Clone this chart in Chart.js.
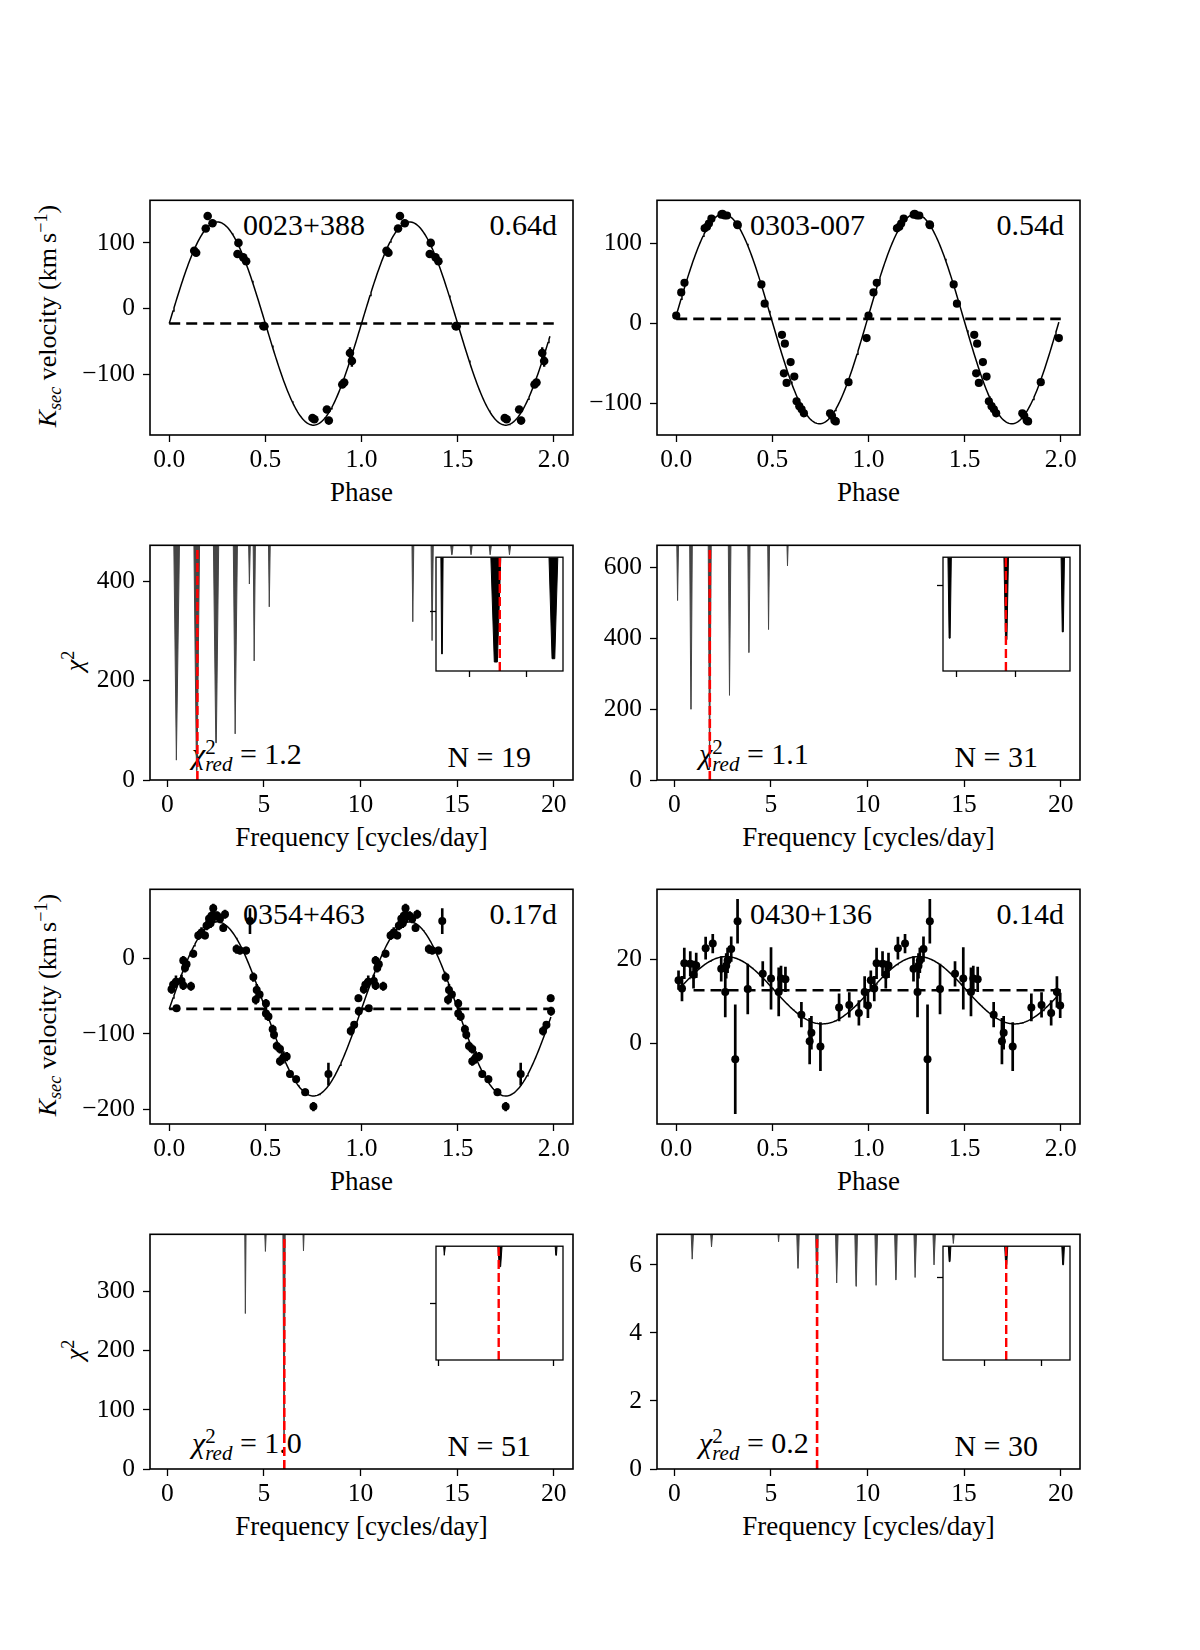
<!DOCTYPE html>
<html lang="en">
<head>
<meta charset="UTF-8">
<title>Radial velocity curves and periodograms</title>
<script src="https://cdn.jsdelivr.net/npm/chart.js"></script>
<style>
  body { margin: 0; background: #fff; }
  #fig { position: relative; width: 1200px; height: 1650px; font-family: 'Liberation Serif', 'Times New Roman', serif; color: #000; }
  .txt { position: absolute; white-space: nowrap; z-index: 0; }
  .txt sub, .txt sup { font-size: 0.7em; line-height: 0; }
  canvas { position: absolute; z-index: 1; }
</style>
</head>
<body>
<div id="fig"></div>
<script>
// ---- radial velocity data (phase, km/s, error) ----
const phase0023 = [0.13, 0.14, 0.19, 0.20, 0.225, 0.355, 0.36, 0.385, 0.40, 0.49, 0.495, 0.745, 0.755, 0.82, 0.83, 0.90, 0.91, 0.94, 0.95];
const rv0023    = [88, 85, 122, 141, 130, 83, 100, 78, 72, -27, -27, -167, -169, -154, -171, -116, -113, -68, -80];
const err0023   = [4, 4, 4, 4, 4, 4, 4, 4, 4, 4, 4, 4, 4, 4, 4, 5, 5, 9, 9];
const fit0023   = [-23, 155, 0];          // gamma, K, phase offset
const span0023  = [0, 1.98];

const phase0303 = [0.0, 0.026, 0.043, 0.148, 0.16, 0.17, 0.183, 0.235, 0.24, 0.252, 0.264, 0.317, 0.32, 0.443, 0.46, 0.55, 0.56, 0.565, 0.574, 0.595, 0.614, 0.626, 0.64, 0.652, 0.664, 0.80, 0.81, 0.823, 0.83, 0.896, 0.99];
const rv0303    = [10, 39, 51, 119, 121, 125, 131, 136, 137, 135, 135, 124, 123, 49, 25, -14, -62, -25, -74, -48, -66, -97, -103, -107, -112, -112, -115, -121, -122, -73, -18];
const err0303   = [3, 3, 3, 3, 3, 3, 3, 3, 3, 3, 3, 3, 3, 3, 3, 3, 3, 3, 3, 3, 3, 3, 3, 3, 3, 3, 3, 3, 3, 3, 3];
const fit0303   = [6, 131, -0.005];
const span0303  = [0, 1.99];

const phase0354 = [0.012, 0.02, 0.035, 0.038, 0.064, 0.073, 0.073, 0.082, 0.09, 0.113, 0.125, 0.151, 0.168, 0.186, 0.194, 0.207, 0.215, 0.22, 0.229, 0.235, 0.25, 0.264, 0.281, 0.29, 0.35, 0.368, 0.40, 0.42, 0.4375, 0.45, 0.455, 0.47, 0.503, 0.503, 0.516, 0.538, 0.545, 0.559, 0.576, 0.576, 0.594, 0.611, 0.628, 0.66, 0.707, 0.75, 0.828, 0.944, 0.962, 0.984, 0.986];
const rv0354    = [-41, -35, -31, -66, -30, -36, -3, -13, -8, -37, 6, 30, 34, 30, 43, 52, 46, 56, 66, 55, 56, 52, 40, 58, 12, 10, 10, 49, -25, -55, -42, -48, -60, -73, -77, -94, -101, -116, -120, -136, -131, -130, -153, -160, -177, -196, -153, -96, -88, -53, -70];
const err0354   = [6, 6, 8, 4, 8, 6, 6, 6, 5, 6, 5, 6, 7, 5, 6, 6, 6, 6, 6, 8, 6, 6, 5, 6, 6, 5, 5, 17, 6, 6, 8, 5, 6, 8, 6, 6, 6, 6, 6, 6, 8, 6, 5, 5, 5, 6, 15, 6, 5, 5, 6];
const fit0354   = [-67, 115, 0];
const span0354  = [0, 1.985];

const phase0430 = [0.012, 0.03, 0.042, 0.073, 0.09, 0.104, 0.153, 0.19, 0.234, 0.255, 0.26, 0.267, 0.286, 0.307, 0.319, 0.372, 0.45, 0.493, 0.533, 0.545, 0.568, 0.651, 0.694, 0.703, 0.75, 0.847, 0.9, 0.95, 0.98, 0.997];
const rv0430    = [15.1, 13.1, 19.1, 19.0, 16.4, 18.6, 22.7, 23.8, 17.8, 12.3, 18.5, 19.8, 22.5, -3.7, 29.1, 13.0, 16.6, 15.5, 12.3, 15.5, 15.3, 6.9, 0.6, 2.6, -0.7, 8.6, 9.2, 7.3, 12.3, 9.1];
const err0430   = [2.3, 3, 3.7, 3, 3.3, 3, 2.7, 2.3, 3, 6, 3, 3, 3, 13, 5.3, 6, 3, 7.4, 5.8, 3, 3, 3, 5.5, 4, 5.8, 3.3, 3, 3, 3.7, 3];
const fit0430   = [12.7, 8, 0.01];
const span0430  = [0.012, 1.997];

// ---- chi-square periodograms: dip frequency, minimum chi2, dip width ----
const freq0023 = [0.48, 1.52, 2.52, 3.52, 4.25, 4.50, 5.28, 12.71, 13.71, 14.73, 15.73, 16.72, 17.72];
const chi0023  = [40, 19, 75, 93, 395, 240, 349, 319, 281, 454, 454, 454, 454];
const wid0023  = [0.3, 0.3, 0.28, 0.22, 0.1, 0.12, 0.1, 0.1, 0.12, 0.2, 0.2, 0.2, 0.2];
const best0023 = 1.553;
const zfreq0023 = [1.4506, 1.546, 1.648];
const zchi0023  = [57, 30, 41];
const zwid0023  = [0.004, 0.018, 0.016];

const freq0303 = [0.17, 0.86, 1.83, 2.86, 3.86, 4.88, 5.86];
const chi0303  = [507, 200, 31, 239, 360, 425, 605];
const wid0303  = [0.1, 0.14, 0.16, 0.14, 0.12, 0.1, 0.08];
const best0303 = 1.834;
const zfreq0303 = [1.7374, 1.8345, 1.9316];
const zchi0303  = [231, 220, 275];
const zwid0303  = [0.006, 0.008, 0.006];

const freq0354 = [4.04, 5.08, 6.04, 7.05];
const chi0354  = [263, 368, 48, 369];
const wid0354  = [0.07, 0.1, 0.12, 0.08];
const best0354 = 6.052;
const zfreq0354 = [6.0049, 6.0531, 6.102];
const zchi0354  = [92, 82, 92];
const zwid0354  = [0.002, 0.004, 0.002];

const freq0430 = [0.93, 1.93, 5.40, 6.40, 7.38, 8.41, 9.41, 10.45, 11.47, 12.47, 13.45, 14.45];
const chi0430  = [6.17, 6.53, 6.68, 5.9, 5.4, 5.47, 5.37, 5.4, 5.56, 5.63, 6.0, 6.63];
const wid0430  = [0.15, 0.15, 0.12, 0.15, 0.15, 0.15, 0.15, 0.15, 0.15, 0.15, 0.15, 0.15];
const best0430 = 7.388;
const zfreq0430 = [7.2895, 7.388, 7.487];
const zchi0430  = [7.13, 6.9, 6.9];
const zwid0430  = [0.005, 0.006, 0.005];

// ---- tick values ----
const phaseTicks = [0, 0.5, 1, 1.5, 2];
const freqTicks = [0, 5, 10, 15, 20];

// ---- layout ----
const SERIF = "'Liberation Serif', 'Times New Roman', serif";
const BOX = {w: 423, h: 238};
const COLS = [150, 657];
const ROWS = [197, 542, 886, 1231];
const PAD = {l: 100, r: 45, t: 20, b: 50};
const PAD_IN = {l: 10, r: 4, t: 4, b: 10};
const INSET = {dx: 286, dy: 10, w: 127, h: 119};
const GRAY = '#454545';
const TICK_FONT = 25.5;
const fig = document.getElementById('fig');

const fmt1 = v => v.toFixed(1);
const fmtInt = v => String(v).replace('-', '\u2212');
const blank = () => '';

const framePlugin = {
  id: 'frame',
  beforeDraw(chart, args, opts) {
    if (!opts.fill) return;
    const a = chart.chartArea, ctx = chart.ctx;
    ctx.save();
    ctx.fillStyle = opts.fill;
    ctx.fillRect(a.left, a.top, a.right - a.left, a.bottom - a.top);
    ctx.restore();
  },
  afterDraw(chart, args, opts) {
    const a = chart.chartArea, ctx = chart.ctx;
    ctx.save();
    ctx.strokeStyle = '#000';
    ctx.lineWidth = opts.width || 1.6;
    ctx.strokeRect(a.left, a.top, a.right - a.left, a.bottom - a.top);
    ctx.restore();
  }
};

function axis(pos, min, max, values, fmt, size, tick, font) {
  const horiz = pos === 'bottom';
  return {
    type: 'linear', position: pos, min: min, max: max,
    afterBuildTicks: s => { s.ticks = values.map(v => ({value: v})); },
    afterFit: s => { if (horiz) s.height = size; else s.width = size; },
    grid: {drawOnChartArea: false, drawTicks: true, tickLength: tick, tickWidth: 1.3, tickColor: '#000'},
    border: {display: false},
    ticks: {autoSkip: false, maxRotation: 0, minRotation: 0, padding: horiz ? 3 : 8, color: '#000',
            font: {family: SERIF, size: font}, callback: v => fmt(v)}
  };
}

function makeChart(left, top, pad, box, datasets, xs, ys, frameOpts) {
  const w = box.w + pad.l + pad.r, h = box.h + pad.t + pad.b;
  const c = document.createElement('canvas');
  c.width = w; c.height = h;
  c.style.left = (left - pad.l) + 'px';
  c.style.top = (top - pad.t) + 'px';
  c.style.width = w + 'px';
  c.style.height = h + 'px';
  fig.appendChild(c);
  return new Chart(c, {
    type: 'scatter',
    data: {datasets: datasets},
    options: {
      responsive: false, animation: false, events: [], devicePixelRatio: 1,
      layout: {padding: {left: 0, right: pad.r, top: pad.t, bottom: 0}},
      scales: {x: xs, y: ys},
      plugins: {legend: {display: false}, tooltip: {enabled: false}, frame: frameOpts}
    },
    plugins: [framePlugin]
  });
}

function rvDatasets(ph, rv, er, fit, span, gammaSpan, radius, barW) {
  const pts = [], bars = [];
  for (let c = 0; c < 2; c++) {
    ph.forEach((p, i) => {
      pts.push({x: p + c, y: rv[i]});
      bars.push({x: p + c, y: rv[i] - er[i]}, {x: p + c, y: rv[i] + er[i]}, {x: p + c, y: null});
    });
  }
  const curve = [];
  const n = 400;
  for (let k = 0; k <= n; k++) {
    const p = span[0] + (span[1] - span[0]) * k / n;
    curve.push({x: p, y: fit[0] + fit[1] * Math.sin(2 * Math.PI * (p - fit[2]))});
  }
  return [
    {type: 'scatter', data: pts, pointRadius: radius, pointBackgroundColor: '#000', pointBorderColor: '#000', pointBorderWidth: 0, order: 0},
    {type: 'line', data: bars, borderColor: '#000', borderWidth: barW, pointRadius: 0, spanGaps: false, order: 1},
    {type: 'line', data: [{x: gammaSpan[0], y: fit[0]}, {x: gammaSpan[1], y: fit[0]}], borderColor: '#000', borderWidth: 2.6, borderDash: [11, 6], pointRadius: 0, order: 2},
    {type: 'line', data: curve, borderColor: '#000', borderWidth: 1.5, pointRadius: 0, order: 3}
  ];
}

function dipLine(freqs, mins, widths, top, lo, hi, baseFrac) {
  const pts = [{x: lo, y: top}];
  freqs.forEach((f, i) => {
    const w = widths[i] / 2, b = w * baseFrac;
    pts.push({x: f - w, y: top}, {x: f - b, y: mins[i]}, {x: f + b, y: mins[i]}, {x: f + w, y: top});
  });
  pts.push({x: hi, y: top});
  return pts;
}

function chiDatasets(freqs, mins, widths, best, xmin, xmax, ymax, color, baseFrac, redW) {
  const top = ymax * 1.03;
  return [
    {type: 'line', data: [{x: best, y: 0}, {x: best, y: top}], borderColor: '#ff0000', borderWidth: redW, borderDash: [9, 4], pointRadius: 0, order: 0},
    {type: 'line', data: dipLine(freqs, mins, widths, top, xmin - 1, xmax + 1, baseFrac), borderColor: color, backgroundColor: color, borderWidth: 1, pointRadius: 0, fill: 'end', order: 1}
  ];
}

function rvPanel(col, row, ph, rv, er, fit, span, gammaSpan, radius, barW, ymin, ymax, yticks) {
  makeChart(COLS[col], ROWS[row], PAD, BOX,
    rvDatasets(ph, rv, er, fit, span, gammaSpan, radius, barW),
    axis('bottom', -0.1, 2.1, phaseTicks, fmt1, PAD.b, 7, TICK_FONT),
    axis('left', ymin, ymax, yticks, fmtInt, PAD.l, 7, TICK_FONT),
    {width: 1.6});
}

function chiPanel(col, row, freqs, mins, widths, best, ymax, yticks, zf, zc, zw, zx, zy, zxt, zyt) {
  const left = COLS[col], top = ROWS[row];
  makeChart(left, top, PAD, BOX,
    chiDatasets(freqs, mins, widths, best, -0.9, 21, ymax, GRAY, 0.1, 2.6),
    axis('bottom', -0.9, 21, freqTicks, fmtInt, PAD.b, 7, TICK_FONT),
    axis('left', 0, ymax, yticks, fmtInt, PAD.l, 7, TICK_FONT),
    {width: 1.6});
  makeChart(left + INSET.dx, top + INSET.dy, PAD_IN, {w: INSET.w, h: INSET.h},
    chiDatasets(zf, zc, zw, best, zx[0], zx[1], zy[1], '#000', 0.3, 2.4),
    axis('bottom', zx[0], zx[1], zxt, blank, PAD_IN.b, 6, 2),
    axis('left', zy[0], zy[1], zyt, blank, PAD_IN.l, 6, 2),
    {width: 1.3, fill: '#fff'});
}

rvPanel(0, 0, phase0023, rv0023, err0023, fit0023, span0023, [0, 2], 4.3, 2.4, -193, 165, [-100, 0, 100]);
rvPanel(1, 0, phase0303, rv0303, err0303, fit0303, span0303, [0, 2], 4.1, 2.4, -139, 154, [-100, 0, 100]);
rvPanel(0, 2, phase0354, rv0354, err0354, fit0354, span0354, [0, 2], 4.0, 2.6, -219, 91, [-200, -100, 0]);
rvPanel(1, 2, phase0430, rv0430, err0430, fit0430, span0430, [0.09, 2], 4.0, 2.7, -19.1, 36.7, [0, 20]);

chiPanel(0, 1, freq0023, chi0023, wid0023, best0023, 473, [0, 200, 400],
  zfreq0023, zchi0023, zwid0023, [1.44, 1.665], [0, 380], [1.5, 1.6], [200]);
chiPanel(1, 1, freq0303, chi0303, wid0303, best0303, 663, [0, 200, 400, 600],
  zfreq0303, zchi0303, zwid0303, [1.726, 1.944], [0, 800], [1.75, 1.85], [600]);
chiPanel(0, 3, freq0354, chi0354, wid0354, best0354, 397, [0, 100, 200, 300],
  zfreq0354, zchi0354, zwid0354, [5.9974, 6.108], [0, 100], [6.0, 6.1], [50]);
chiPanel(1, 3, freq0430, chi0430, wid0430, best0430, 6.9, [0, 2, 4, 6],
  zfreq0430, zchi0430, zwid0430, [7.278, 7.499], [0, 8.25], [7.35, 7.45], [6]);

// ---- text ----
function addText(html, x, base, align, size) {
  const d = document.createElement('div');
  d.className = 'txt';
  d.innerHTML = html;
  d.style.fontSize = size + 'px';
  d.style.lineHeight = size + 'px';
  d.style.left = x + 'px';
  d.style.top = (base - 0.8375 * size) + 'px';
  if (align === 'right') d.style.transform = 'translateX(-100%)';
  if (align === 'center') d.style.transform = 'translateX(-50%)';
  fig.appendChild(d);
}
function addVText(html, cx, cy, size) {
  const d = document.createElement('div');
  d.className = 'txt';
  d.innerHTML = html;
  d.style.fontSize = size + 'px';
  d.style.lineHeight = size + 'px';
  d.style.width = '400px';
  d.style.height = size + 'px';
  d.style.textAlign = 'center';
  d.style.left = (cx - 200) + 'px';
  d.style.top = (cy - size / 2) + 'px';
  d.style.transform = 'rotate(-90deg)';
  fig.appendChild(d);
}

const names = [['0023+388', '0.64d'], ['0303-007', '0.54d'], ['0354+463', '0.17d'], ['0430+136', '0.14d']];
const chiRed = ['1.2', '1.1', '1.0', '0.2'];
const nObs = [19, 31, 51, 30];

names.forEach((nm, i) => {
  const col = i % 2, row = (i < 2) ? 0 : 2;
  addText(nm[0], COLS[col] + 93, ROWS[row] + 38, 'left', 30);
  addText(nm[1], COLS[col] + 407, ROWS[row] + 38, 'right', 30);
  const crow = row + 1;
  addText('<i>\u03C7</i><sup style="vertical-align:0.5em">2</sup><sub style="vertical-align:-0.33em;margin-left:-0.5em;font-style:italic">red</sub> = ' + chiRed[i],
    COLS[col] + 42, ROWS[crow] + 222, 'left', 30);
  addText('N = ' + nObs[i], COLS[col] + 381, ROWS[crow] + 225, 'right', 30);
});

for (let col = 0; col < 2; col++) {
  for (let row = 0; row < 4; row++) {
    const lab = (row % 2 === 0) ? 'Phase' : 'Frequency [cycles/day]';
    addText(lab, COLS[col] + BOX.w / 2, ROWS[row] + BOX.h + 67, 'center', 27);
  }
}
[0, 2].forEach(row => {
  addVText('<i>K</i><sub style="vertical-align:-0.3em;font-style:italic">sec</sub> velocity (km\u2009s<sup style="vertical-align:0.5em">\u22121</sup>)',
    48, ROWS[row] + BOX.h / 2, 26);
  addVText('<i>\u03C7</i><sup style="vertical-align:0.5em">2</sup>', 75, ROWS[row + 1] + BOX.h / 2, 26);
});
</script>
</body>
</html>
